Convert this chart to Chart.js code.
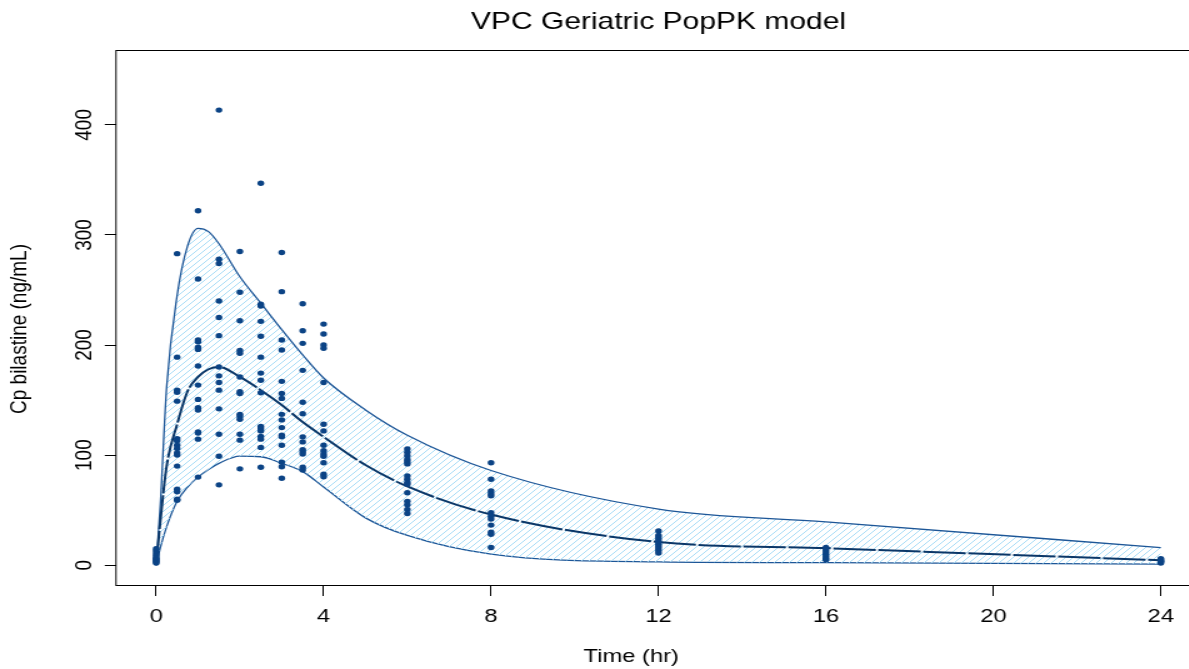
<!DOCTYPE html>
<html lang="en">
<head>
  <meta charset="UTF-8">
  <title>VPC Geriatric PopPK model</title>
  <script src="https://cdn.jsdelivr.net/npm/chart.js"></script>
  <style>
    html, body {
      margin: 0;
      padding: 0;
      background: #fff;
      overflow: hidden;
    }
    /* the original plot is stretched sideways, so draw narrow and widen */
    #vpcChart {
      display: block;
      transform: scaleX(1.25);
      transform-origin: 0 0;
    }
  </style>
</head>
<body>
  <canvas id="vpcChart" width="970" height="669"></canvas>
  <script>
    const titleText = 'VPC Geriatric PopPK model';
    const xTitle = 'Time (hr)';
    const yTitle = 'Cp bilastine (ng/mL)';
    const xTicks = [0, 4, 8, 12, 16, 20, 24];
    const yTicks = [0, 100, 200, 300, 400];

    // prediction interval (5th / 50th / 95th percentiles)
    const bandTimes = [0, 0.1, 0.25, 0.5, 0.75, 1, 1.25, 1.5, 2, 2.5, 3, 3.5, 4, 5, 6, 8, 12, 16, 24];
    const upperPct = [0, 56, 162, 245, 290, 306, 303, 292, 262, 238, 214, 191, 170, 141, 118, 86, 51, 39.3, 16];
    const medianPct = [0, 40, 90, 128, 158, 171, 178, 180, 171, 159, 145.5, 130, 116.6, 91, 71.5, 46, 21, 15.5, 4.5];
    const lowerPct = [0, 16, 35, 58, 71, 80, 87, 92.5, 99, 98.5, 92.5, 85, 71, 43, 27, 10, 3, 2.3, 1];

    // observed concentrations, one list per nominal sampling time
    const obsTimes = [0, 0.5, 1, 1.5, 2, 2.5, 3, 3.5, 4, 6, 8, 12, 16, 24];
    const obsConc = [
      [2, 3, 4, 5, 6, 7, 9, 11, 13, 15],
      [283, 189, 159, 157, 149, 115, 113, 109, 106, 102, 100, 90, 69, 66.6, 60, 59],
      [322, 260, 204.5, 203, 198, 196, 181, 163.6, 150.6, 143, 141, 121, 120, 114.5, 80],
      [413.4, 278, 274, 240, 225, 208.5, 180, 172, 166, 159, 142, 119, 99, 73],
      [285, 248, 222, 195, 192.5, 171, 157.5, 156, 137, 135, 132.5, 119, 113.6, 87.5],
      [347, 237, 235.5, 221.5, 208, 189, 174.5, 168, 156.6, 126, 124, 122, 117, 114.5, 107, 89],
      [284, 248.5, 204.5, 195.5, 167, 156, 151.5, 137, 132, 125, 118, 116.6, 109, 93.6, 89.4, 79],
      [237.5, 213, 201.5, 177, 148, 137.5, 116.6, 112, 105, 103, 101, 89, 86.4],
      [219, 210, 200, 197, 166, 128, 122, 109, 104, 101, 99, 93, 82.7, 80.3],
      [105.5, 102.5, 99.4, 96, 94, 92, 81, 78, 75, 73.6, 65.8, 58, 55, 50.6, 47],
      [93, 78, 67.5, 65, 63, 47.6, 44.5, 42, 36.4, 30, 28, 16],
      [31, 27, 25, 23, 21, 19, 17, 15, 13, 11],
      [16, 14, 12, 10, 8, 6, 5],
      [2, 3, 3.5, 4, 5, 6]
    ];

    const fontFamily = "'Liberation Sans', Arial, Helvetica, sans-serif";
    Chart.defaults.font.family = fontFamily;
    Chart.defaults.color = '#000';

    function toPoints(xs, ys) {
      return xs.map((x, i) => ({ x: x, y: ys[i] }));
    }

    // light blue diagonal hatching for the interval
    function makeHatch() {
      const n = 6;
      const tile = document.createElement('canvas');
      tile.width = n;
      tile.height = n;
      const c = tile.getContext('2d');
      c.strokeStyle = '#a9dcf6';
      c.lineWidth = 1;
      c.beginPath();
      c.moveTo(-1, n + 1);
      c.lineTo(n + 1, -1);
      c.moveTo(-1, 1);
      c.lineTo(1, -1);
      c.moveTo(n - 1, n + 1);
      c.lineTo(n + 1, n - 1);
      c.stroke();
      return c.createPattern(tile, 'repeat');
    }

    const observed = [];
    obsTimes.forEach((t, i) => {
      obsConc[i].forEach((v) => observed.push({ x: t, y: v }));
    });

    // frame, titles and upright y labels (R style)
    const framePlugin = {
      id: 'frame',
      afterDraw(chart) {
        const { ctx, chartArea: a, scales } = chart;
        ctx.save();
        ctx.strokeStyle = '#000';
        ctx.lineWidth = 1;
        ctx.strokeRect(a.left, a.top + 0.5, a.right - a.left, a.bottom - a.top);

        ctx.fillStyle = '#000';
        ctx.textAlign = 'center';
        ctx.textBaseline = 'middle';
        ctx.font = '24px ' + fontFamily;
        ctx.fillText(titleText, (a.left + a.right) / 2, 22);

        ctx.font = '19px ' + fontFamily;
        ctx.fillText(xTitle, 505, 657);

        ctx.save();
        ctx.translate(16, 329);
        ctx.rotate(-Math.PI / 2);
        ctx.fillText(yTitle, 0, 0);
        ctx.restore();

        yTicks.forEach((v) => {
          ctx.save();
          ctx.translate(68, scales.y.getPixelForValue(v));
          ctx.rotate(-Math.PI / 2);
          ctx.fillText(String(v), 0, 0);
          ctx.restore();
        });
        ctx.restore();
      }
    };

    new Chart(document.getElementById('vpcChart'), {
      type: 'line',
      data: {
        datasets: [
          {
            label: '95th percentile',
            data: toPoints(bandTimes, upperPct),
            borderColor: '#1d5697',
            borderWidth: 1.3,
            pointRadius: 0,
            cubicInterpolationMode: 'monotone',
            backgroundColor: makeHatch(),
            fill: '+1',
            order: 3
          },
          {
            label: '5th percentile',
            data: toPoints(bandTimes, lowerPct),
            borderColor: '#1d5697',
            borderWidth: 1.3,
            pointRadius: 0,
            cubicInterpolationMode: 'monotone',
            fill: false,
            order: 3
          },
          {
            label: 'Median',
            data: toPoints(bandTimes, medianPct),
            borderColor: '#0b3768',
            borderWidth: 2,
            borderDash: [34, 2],
            pointRadius: 0,
            cubicInterpolationMode: 'monotone',
            fill: false,
            order: 2
          },
          {
            label: 'Observed',
            data: observed,
            showLine: false,
            pointRadius: 2.7,
            pointHoverRadius: 2.7,
            pointBorderWidth: 0,
            pointBackgroundColor: '#0b4385',
            pointBorderColor: '#0b4385',
            order: 1
          }
        ]
      },
      options: {
        responsive: false,
        animation: false,
        devicePixelRatio: 1,
        layout: { padding: { top: 50, right: 9.2, left: 0, bottom: 0 } },
        plugins: {
          legend: { display: false },
          tooltip: { enabled: false },
          title: { display: false }
        },
        scales: {
          x: {
            type: 'linear',
            min: -0.96,
            max: 24.96,
            afterBuildTicks: (scale) => {
              scale.ticks = xTicks.map((v) => ({ value: v }));
            },
            afterFit: (scale) => { scale.height = 84; },
            border: { display: false },
            grid: {
              drawOnChartArea: false,
              drawTicks: true,
              tickLength: 11,
              tickColor: '#000',
              tickWidth: 1
            },
            ticks: {
              font: { size: 19 },
              padding: 9,
              maxRotation: 0,
              autoSkip: false
            }
          },
          y: {
            type: 'linear',
            min: -18,
            max: 468,
            afterBuildTicks: (scale) => {
              scale.ticks = yTicks.map((v) => ({ value: v }));
            },
            afterFit: (scale) => { scale.width = 92.8; },
            border: { display: false },
            grid: {
              drawOnChartArea: false,
              drawTicks: true,
              tickLength: 9,
              tickColor: '#000',
              tickWidth: 1
            },
            ticks: { display: false }
          }
        }
      },
      plugins: [framePlugin]
    });
  </script>
</body>
</html>
